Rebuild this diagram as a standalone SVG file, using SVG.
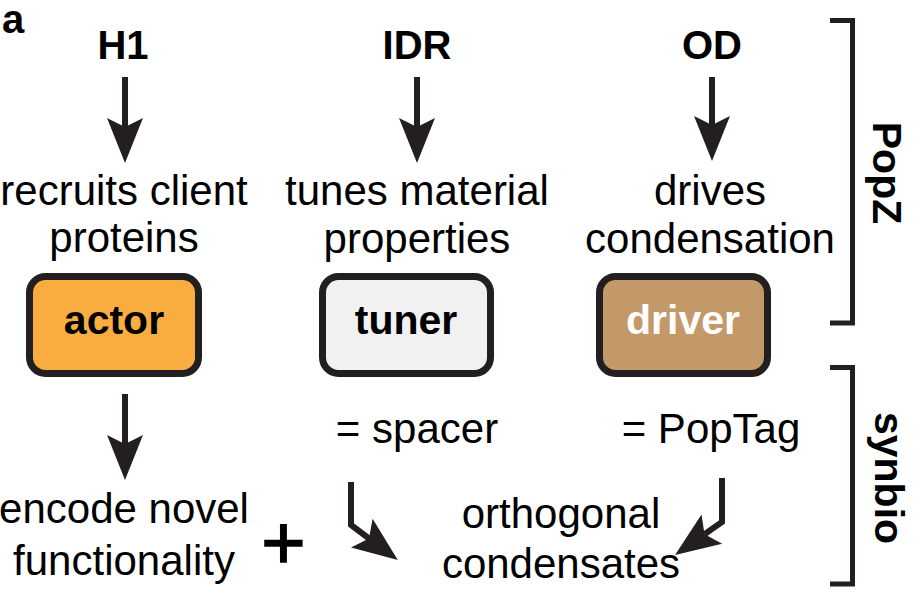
<svg xmlns="http://www.w3.org/2000/svg" width="916" height="605" viewBox="0 0 916 605">
<defs>
<style>
text{font-family:"Liberation Sans",Arial,Helvetica,sans-serif;fill:#000}
.t{font-size:42px;text-anchor:middle}
.b{font-size:40px;font-weight:bold;text-anchor:middle}
.lbl{font-size:41px;font-weight:bold;text-anchor:middle}
.box{stroke:#231F20;stroke-width:7}
.arr{fill:none;stroke:#231F20;stroke-width:6;stroke-linejoin:miter;marker-end:url(#ah)}
.br{fill:none;stroke:#231F20;stroke-width:5;stroke-linejoin:miter}
</style>
<marker id="ah" markerUnits="userSpaceOnUse" markerWidth="46" markerHeight="38" refX="9" refY="18" orient="auto" overflow="visible">
<path d="M0,0 L45,18 L0,36 L9,18 Z" fill="#231F20"/>
</marker>
</defs>
<rect width="916" height="605" fill="#fff"/>
<text x="2" y="33" style="font-size:40px;font-weight:bold">a</text>

<g id="connectors">
<path class="arr" d="M125,77 V127"/>
<path class="arr" d="M417,77 V127"/>
<path class="arr" d="M712,77 V125"/>
<path class="arr" d="M125,394 V444"/>
<path class="arr" d="M351,482 V525 L369,538.5"/>
<path class="arr" d="M722,478 V522 L704.5,534.3"/>
</g>

<g id="H1"><text class="b" x="123" y="59">H1</text></g>
<g id="IDR"><text class="b" x="417" y="59">IDR</text></g>
<g id="OD"><text class="b" x="712" y="59">OD</text></g>

<g id="recruits"><text class="t" x="124" y="205">recruits client</text><text class="t" x="124" y="252">proteins</text></g>
<g id="tunes"><text class="t" x="417" y="205">tunes material</text><text class="t" x="417" y="253">properties</text></g>
<g id="drives"><text class="t" x="710" y="205">drives</text><text class="t" x="710" y="253">condensation</text></g>

<g id="actor"><rect class="box" x="29.5" y="276.5" width="169" height="97" rx="16" fill="#F9AD41"/><text class="lbl" x="114" y="334">actor</text></g>
<g id="tuner"><rect class="box" x="322.5" y="276.5" width="168" height="97" rx="16" fill="#F1F1F1"/><text class="lbl" x="406" y="334">tuner</text></g>
<g id="driver"><rect class="box" x="599.5" y="276.5" width="168" height="97" rx="16" fill="#C4996A"/><text class="lbl" x="683" y="334" style="fill:#fff">driver</text></g>

<g id="spacer"><text class="t" x="417" y="443">= spacer</text></g>
<g id="poptag"><text class="t" x="711" y="443">= PopTag</text></g>

<g id="encode"><text class="t" x="124" y="523">encode novel</text><text class="t" x="124" y="575">functionality</text></g>
<g id="plus"><text x="283.5" y="569" style="font-size:76px;text-anchor:middle;stroke:#000;stroke-width:1.5">+</text></g>
<g id="orthogonal"><text class="t" x="561" y="528">orthogonal</text><text class="t" x="561" y="578">condensates</text></g>

<g id="popz">
<path class="br" d="M830,20.5 H852.5 V323 H830"/>
<text class="lbl" transform="translate(873,173) rotate(90)">PopZ</text>
</g>
<g id="synbio">
<path class="br" d="M830,367.5 H852.5 V584 H830"/>
<text class="lbl" transform="translate(875,478) rotate(90)">synbio</text>
</g>
</svg>
